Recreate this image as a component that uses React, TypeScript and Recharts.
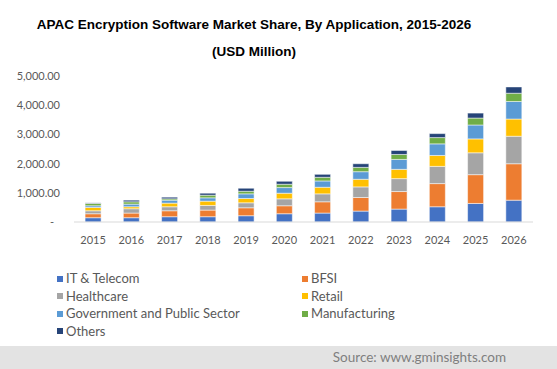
import { BarChart, Bar, XAxis, YAxis } from "recharts";

const years = ["2015", "2016", "2017", "2018", "2019", "2020", "2021", "2022", "2023", "2024", "2025", "2026"];
const itTelecom = [147, 147, 181, 181, 215, 283, 306, 374, 442, 522, 635, 748];
const bfsi = [136, 159, 204, 227, 272, 273, 386, 465, 601, 793, 986, 1247];
const healthcare = [102, 148, 137, 159, 171, 238, 272, 363, 442, 590, 749, 942];
const retail = [114, 68, 124, 147, 147, 192, 226, 261, 318, 374, 476, 589];
const government = [57, 90, 102, 114, 159, 193, 216, 260, 340, 397, 476, 601];
const manufacturing = [79, 80, 46, 90, 90, 114, 125, 148, 170, 215, 238, 283];
const others = [20, 56, 56, 68, 102, 102, 102, 124, 136, 136, 170, 216];
const yTicks = [0, 1000, 2000, 3000, 4000, 5000];

const series = [
  { key: "it", name: "IT & Telecom", values: itTelecom, color: "#4472C4" },
  { key: "bfsi", name: "BFSI", values: bfsi, color: "#ED7D31" },
  { key: "health", name: "Healthcare", values: healthcare, color: "#A5A5A5" },
  { key: "retail", name: "Retail", values: retail, color: "#FFC000" },
  { key: "gov", name: "Government and Public Sector", values: government, color: "#5B9BD5" },
  { key: "manu", name: "Manufacturing", values: manufacturing, color: "#70AD47" },
  { key: "others", name: "Others", values: others, color: "#264478" },
];

const data = years.map((year, i) => {
  const row: Record<string, string | number> = { year };
  series.forEach((s) => {
    row[s.key] = s.values[i];
  });
  return row;
});

const font = "Lato, 'Open Sans', sans-serif";
const textGray = "#595959";

function YTick(props: any) {
  const { x, y, payload } = props;
  const v = payload.value as number;
  const label = v === 0 ? "-" : v.toLocaleString("en-US", { minimumFractionDigits: 2, maximumFractionDigits: 2 });
  return (
    <text x={v === 0 ? x - 12 : x - 6} y={y} dy={4} textAnchor="end" fill={textGray} fontSize={11} fontFamily={font}>
      {label}
    </text>
  );
}

export default function App() {
  return (
    <div style={{ position: "relative", width: 557, height: 369, background: "#fff", overflow: "hidden" }}>
      <style>{"body{margin:0}"}</style>
      <div
        style={{
          position: "absolute",
          left: 0,
          width: 508,
          top: 11,
          textAlign: "center",
          fontFamily: "'Liberation Sans', Arial, sans-serif",
          fontWeight: "bold",
          fontSize: 13.5,
          lineHeight: "27px",
          color: "#000",
        }}
      >
        <div>APAC Encryption Software Market Share, By Application, 2015-2026</div>
        <div>(USD Million)</div>
      </div>
      <div style={{ position: "absolute", left: 0, top: 0 }}>
        <BarChart width={557} height={252} data={data} margin={{ top: 76, right: 24, bottom: 0, left: 0 }} barCategoryGap="29%">
          <XAxis
            dataKey="year"
            axisLine={{ stroke: "#D9D9D9" }}
            tickLine={false}
            height={30}
            interval={0}
            tick={{ fill: textGray, fontSize: 11, fontFamily: font }}
            tickMargin={8}
          />
          <YAxis
            width={74}
            domain={[0, 5000]}
            ticks={yTicks}
            interval={0}
            axisLine={false}
            tickLine={false}
            tick={<YTick />}
          />
          {series.map((s) => (
            <Bar
              key={s.key}
              dataKey={s.key}
              name={s.name}
              stackId="a"
              fill={s.color}
              stroke="#ffffff"
              strokeWidth={0.5}
              isAnimationActive={false}
            />
          ))}
        </BarChart>
      </div>
      <div
        style={{
          position: "absolute",
          left: 57,
          top: 270,
          display: "grid",
          gridTemplateColumns: "245px 200px",
          fontFamily: font,
          fontSize: 13,
          color: textGray,
          lineHeight: "17.5px",
        }}
      >
        {series.map((s) => (
          <div key={s.key} style={{ display: "flex", alignItems: "center" }}>
            <span style={{ width: 6, height: 6, background: s.color, display: "inline-block", marginRight: 3 }} />
            {s.name}
          </div>
        ))}
      </div>
      <div
        style={{
          position: "absolute",
          left: 0,
          top: 346,
          width: 557,
          height: 23,
          background: "#E3E3E3",
        }}
      />
      <div
        style={{
          position: "absolute",
          right: 51,
          top: 347,
          fontFamily: font,
          fontSize: 13.5,
          color: "#7F7F7F",
          lineHeight: "20px",
        }}
      >
        Source: www.gminsights.com
      </div>
    </div>
  );
}
